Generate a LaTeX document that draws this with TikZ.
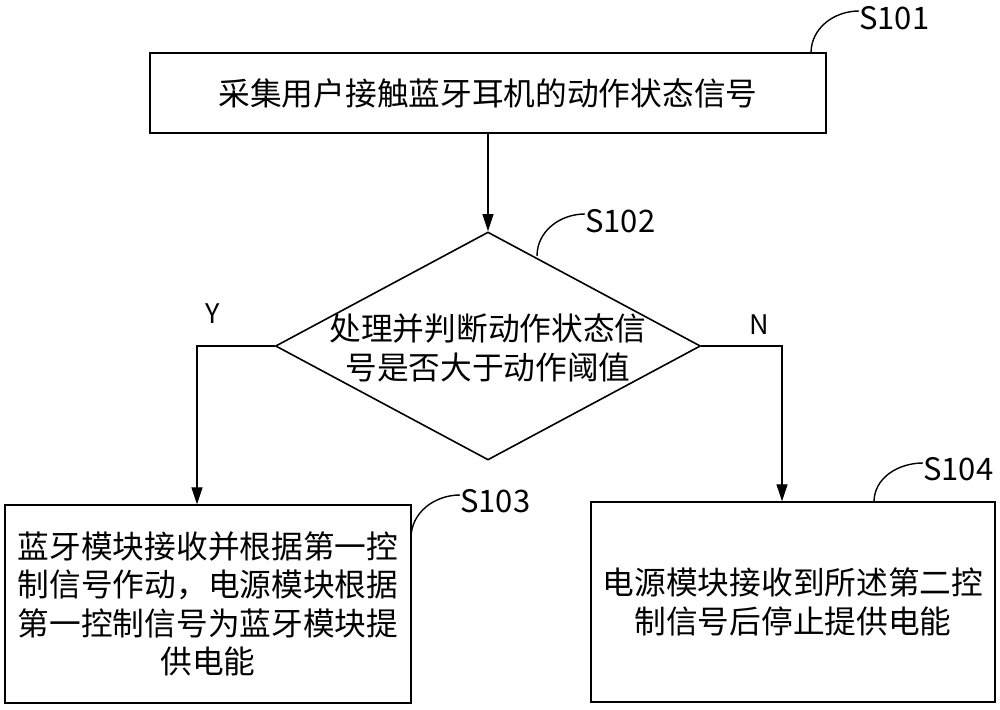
\documentclass[tikz,border=0pt]{standalone}
\usepackage{fontspec}
\setmainfont{Noto Sans CJK SC}
\usetikzlibrary{arrows.meta,shapes.geometric}
\begin{document}
\begin{tikzpicture}[x=1pt,y=-1pt,
  box/.style={draw, line width=1.4pt, rectangle, inner sep=0pt, align=center,
    font=\fontsize{31.7}{38.5}\selectfont},
  txt/.style={inner sep=0pt, align=center, font=\fontsize{31.7}{38.5}\selectfont},
  lbl/.style={inner sep=0pt, anchor=west, font=\fontsize{31}{31}\selectfont},
  yn/.style={inner sep=0pt, font=\fontsize{27}{27}\selectfont},
  conn/.style={line width=1.2pt},
  arr/.style={conn, -{Triangle[length=17pt,width=11pt]}},
  lead/.style={line width=1.4pt}]
\useasboundingbox (0,0) rectangle (1000,709);
\fill[white] (0,0) rectangle (1000,709);

\node[box, minimum width=676pt, minimum height=80pt] (b1) at (488,93)
  {采集用户接触蓝牙耳机的动作状态信号};
\node[draw, line width=1.6pt, diamond, inner sep=0pt, minimum width=425pt,
  minimum height=228pt] (d) at (488,346) {};
\node[txt] (dt) at (488,348) {处理并判断动作状态信\\号是否大于动作阈值};
\node[box, minimum width=406pt, minimum height=198pt] (b3) at (208,604)
  {蓝牙模块接收并根据第一控\\制信号作动，电源模块根据\\第一控制信号为蓝牙模块提\\供电能};
\node[box, minimum width=404pt, minimum height=200pt] (b4) at (793,602)
  {电源模块接收到所述第二控\\制信号后停止提供电能};

\draw[arr] (b1.south) -- (d.north);
\draw[arr] (d.west) -| ([xshift=-11pt]b3.north);
\draw[arr] (d.east) -| ([xshift=-11pt]b4.north);

\node[yn] (y) at (213,314) {Y};
\node[yn] (n) at (759,325) {N};

\node[lbl] (l1) at (859,18) {S101};
\node[lbl] (l2) at (585,221) {S102};
\node[lbl] (l3) at (460,501) {S103};
\node[lbl] (l4) at (923,469) {S104};

\coordinate (c1) at (811,53);
\coordinate (c2) at (537,256);
\coordinate (c3) at (411,538);
\coordinate (c4) at (874,502);
\draw[lead] (c1) to[out=90,in=180] ([yshift=7pt]l1.west);
\draw[lead] (c2) to[out=90,in=180] ([yshift=7pt]l2.west);
\draw[lead] (c3) to[out=90,in=180] ([yshift=6pt]l3.west);
\draw[lead] (c4) to[out=90,in=180] ([yshift=6pt]l4.west);
\end{tikzpicture}
\end{document}
